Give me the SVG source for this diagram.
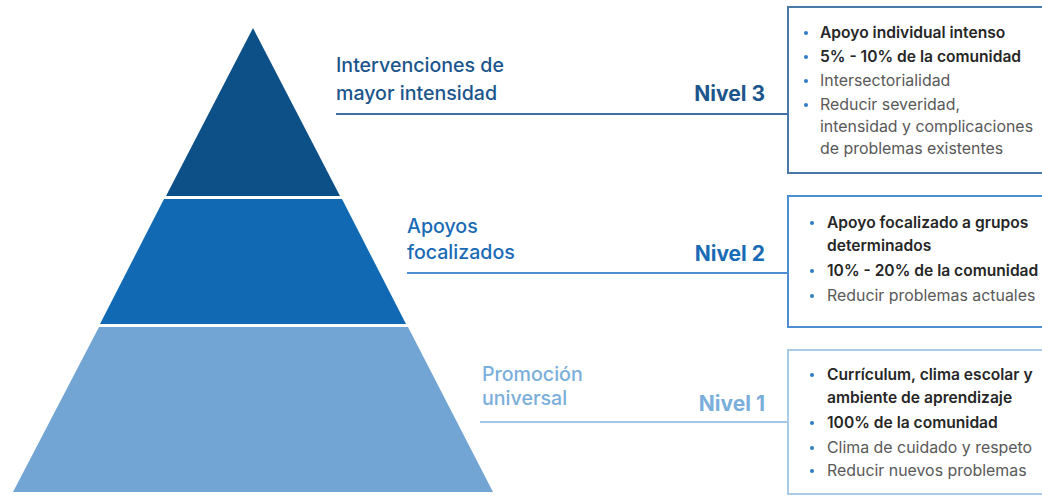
<svg xmlns="http://www.w3.org/2000/svg" width="1042" height="496" viewBox="0 0 1042 496">
<style>
.lbl{font-family:Inter,"Liberation Sans",sans-serif;font-size:19.6px;font-weight:500}
.niv{font-family:Inter,"Liberation Sans",sans-serif;font-size:21px;font-weight:700;text-anchor:end}
.b{font-family:Inter,"Liberation Sans",sans-serif;font-size:15.6px;font-weight:600;fill:#262626}
.r{font-family:Inter,"Liberation Sans",sans-serif;font-size:15.9px;font-weight:400;fill:#595959}
.dot{fill:#2f7cc4}
.box{fill:#ffffff;stroke-width:2}
</style>
<rect width="1042" height="496" fill="#ffffff"/>
<g id="pyramid">
<g id="tier3"><polygon points="253,28 340,196 166,196" fill="#0d4f87"/></g>
<g id="tier2"><polygon points="164,199 342,199 406,324 100,324" fill="#1169b3"/></g>
<g id="tier1"><polygon points="99,327 408,327 493,492 13,492" fill="#72a5d3"/></g>
</g>
<g id="connectors">
<line x1="336" y1="114" x2="788" y2="114" stroke="#3f70a4" stroke-width="2"/>
<line x1="407" y1="273" x2="788" y2="273" stroke="#4d8fd0" stroke-width="2"/>
<line x1="480" y1="422" x2="788" y2="422" stroke="#a3c7e7" stroke-width="2"/>
</g>
<g id="level3">
<text class="lbl" fill="#1b558c"><tspan x="336" y="72">Intervenciones de</tspan><tspan x="336" y="100">mayor intensidad</tspan></text>
<text class="niv" x="765" y="101" fill="#1b558c">Nivel 3</text>
<rect class="box" x="788" y="7" width="270" height="166" stroke="#4a78a8"/>
<circle class="dot" cx="806" cy="33" r="2"/>
<circle class="dot" cx="806" cy="57" r="2"/>
<circle class="dot" cx="806" cy="81" r="2"/>
<circle class="dot" cx="806" cy="105" r="2"/>
<text class="b" x="820" y="38">Apoyo individual intenso</text>
<text class="b" x="820" y="62">5% - 10% de la comunidad</text>
<text class="r" x="820" y="86">Intersectorialidad</text>
<text class="r"><tspan x="820" y="110">Reducir severidad,</tspan><tspan x="820" y="132">intensidad y complicaciones</tspan><tspan x="820" y="154">de problemas existentes</tspan></text>
</g>
<g id="level2">
<text class="lbl" fill="#1a6bb5"><tspan x="407" y="233">Apoyos</tspan><tspan x="407" y="259">focalizados</tspan></text>
<text class="niv" x="765" y="261" fill="#1a6bb5">Nivel 2</text>
<rect class="box" x="788" y="196" width="270" height="131" stroke="#4d8fd0"/>
<circle class="dot" cx="812" cy="223" r="2"/>
<circle class="dot" cx="812" cy="271" r="2"/>
<circle class="dot" cx="812" cy="296" r="2"/>
<text class="b"><tspan x="827" y="228">Apoyo focalizado a grupos</tspan><tspan x="827" y="251">determinados</tspan></text>
<text class="b" x="827" y="276">10% - 20% de la comunidad</text>
<text class="r" x="827" y="301">Reducir problemas actuales</text>
</g>
<g id="level1">
<text class="lbl" fill="#7aaedb"><tspan x="482" y="381">Promoción</tspan><tspan x="482" y="405">universal</tspan></text>
<text class="niv" x="765" y="411" fill="#7aaedb">Nivel 1</text>
<rect class="box" x="788" y="350" width="270" height="144" stroke="#a9cbe8"/>
<circle class="dot" cx="812" cy="375" r="2"/>
<circle class="dot" cx="812" cy="423" r="2"/>
<circle class="dot" cx="812" cy="448" r="2"/>
<circle class="dot" cx="812" cy="471" r="2"/>
<text class="b"><tspan x="827" y="380">Currículum, clima escolar y</tspan><tspan x="827" y="403">ambiente de aprendizaje</tspan></text>
<text class="b" x="827" y="428">100% de la comunidad</text>
<text class="r" x="827" y="453">Clima de cuidado y respeto</text>
<text class="r" x="827" y="476">Reducir nuevos problemas</text>
</g>
</svg>
